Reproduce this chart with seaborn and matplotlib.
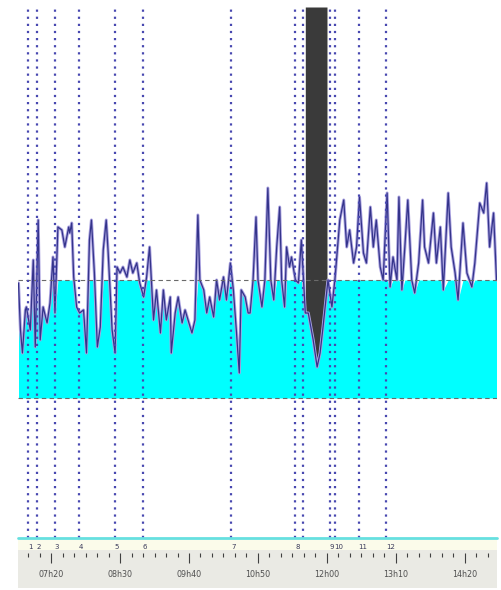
import numpy as np
import pandas as pd
import matplotlib
matplotlib.use("Agg")
import matplotlib.pyplot as plt
from matplotlib.ticker import FixedLocator, FuncFormatter, NullLocator
import seaborn as sns

# ---- data (time in minutes since midnight, amplitude in arbitrary units) ----
times = [407, 409, 411, 414, 415, 419, 422, 424, 427, 429, 432, 436, 439, 442, 444,
         447, 451, 454, 458, 459, 461, 463, 466, 469, 473, 476, 479, 481, 484, 487,
         490, 493, 496, 498, 502, 505, 507, 510, 513, 517, 520, 523, 527, 530, 534,
         537, 540, 544, 547, 551, 554, 557, 561, 562, 566, 569, 573, 576, 579, 583,
         586, 589, 591, 595, 598, 601, 605, 608, 611, 615, 618, 622, 625, 628, 631,
         633, 637, 640, 642, 645, 648, 650, 654, 657, 660, 663, 666, 669, 672, 674,
         677, 679, 682, 684, 688, 691, 694, 698, 701, 706, 710, 713, 716, 721, 725,
         728, 733, 737, 740, 743, 747, 750, 753, 757, 760, 764, 767, 770, 774, 777,
         781, 784, 787, 791, 793, 796, 799, 802, 806, 809, 813, 817, 819, 823, 828,
         831, 835, 838, 843, 846, 850, 853, 858, 862, 867, 870, 875, 879, 882, 885,
         889, 892]
values = [115, 68, 45, 88, 91, 68, 138, 51, 178, 58, 91, 75, 95, 141, 85,
          171, 168, 151, 171, 165, 175, 121, 91, 85, 88, 45, 158, 178, 125, 51,
          71, 148, 178, 145, 68, 45, 131, 125, 131, 121, 138, 125, 135, 115, 101,
          121, 151, 78, 108, 65, 108, 78, 101, 45, 85, 101, 75, 88, 78, 65,
          78, 183, 118, 108, 85, 101, 81, 118, 98, 121, 98, 135, 108, 68, 25,
          108, 101, 85, 85, 118, 181, 118, 91, 118, 210, 118, 98, 151, 191, 118,
          91, 151, 131, 141, 118, 115, 158, 85, 85, 58, 31, 45, 71, 118, 91,
          118, 178, 198, 151, 168, 135, 151, 201, 145, 135, 191, 151, 178, 131, 118,
          205, 111, 141, 118, 201, 108, 151, 198, 118, 105, 135, 198, 151, 135, 185,
          135, 171, 108, 205, 151, 125, 98, 175, 125, 111, 135, 195, 185, 215, 151,
          185, 118]

threshold = 118
baseline = 0
band_start, band_end = 698, 720          # signal-off period (dark band)

event_times = [417, 426, 444, 468, 505, 533, 623, 688, 696, 723, 728, 752, 780]
event_labels = ["1", "2", "3", "4", "5", "6", "7", "8", "", "9", "10", "11", "12"]

major_ticks = [440, 510, 580, 650, 720, 790, 860]
x_min, x_max = 406.5, 892.5
y_min, y_max = -140, 391

df = pd.DataFrame({"t": times, "v": values})

# ---- figure ----
sns.set_style("white")
W, H = 501, 590
fig = plt.figure(figsize=(W / 100, H / 100), dpi=100)
fig.patch.set_facecolor("white")

L, R = 18, 497
ax = fig.add_axes([L / W, (H - 538) / H, (R - L) / W, (538 - 7) / H])
ax2 = fig.add_axes([L / W, (H - 588) / H, (R - L) / W, 50 / H])

# cyan fill up to min(signal, threshold)
tt = np.array(times, dtype=float)
vv = np.array(values, dtype=float)
ax.fill_between(tt, baseline, np.minimum(vv, threshold), color="#00ffff", lw=0, zorder=1)

# dark band
grid = np.linspace(band_start, band_end, 80)
ax.fill_between(grid, np.interp(grid, tt, vv), y_max, color="#3a3a3a", lw=0, zorder=2)

# signal line (soft halo + dark core)
sns.lineplot(data=df, x="t", y="v", ax=ax, color="#aaa2e0", lw=2.2, zorder=3)
sns.lineplot(data=df, x="t", y="v", ax=ax, color="#34348a", lw=0.9, zorder=3.5)

# dashed reference lines
for yv in (threshold, baseline):
    ax.axhline(yv, color="#6a6a6a", lw=0.8, ls=(0, (4, 3)), zorder=4)

# event lines
for et in event_times:
    ax.axvline(et, color="#4848b0", lw=1.6, ls=(0, (1, 2.2)), zorder=5)

ax.set_xlim(x_min, x_max)
ax.set_ylim(y_min, y_max)
ax.xaxis.set_major_locator(NullLocator())
ax.xaxis.set_minor_locator(NullLocator())
ax.set_yticks([])
ax.set_xlabel("")
ax.set_ylabel("")
for s in ax.spines.values():
    s.set_visible(False)

# ---- bottom time scale ----
ax2.set_xlim(x_min, x_max)
ax2.set_facecolor("#eaeae4")
ax2.set_ylim(0, 1)
ax2.axhspan(0.76, 1.0, color="#fbfbea", lw=0)
ax2.axhline(1.0, color="#66e0e0", lw=2.0, clip_on=False)
for s in ax2.spines.values():
    s.set_visible(False)
ax2.spines["bottom"].set_position(("axes", 0.7))
ax2.set_yticks([])
ax2.xaxis.set_major_locator(FixedLocator(major_ticks))
ax2.xaxis.set_minor_locator(FixedLocator(np.arange(440 - 3 * 70 / 6, x_max, 70 / 6)))
ax2.xaxis.set_major_formatter(FuncFormatter(lambda t, p: f"{int(t // 60):02d}h{int(round(t % 60)):02d}"))
ax2.tick_params(axis="x", which="both", bottom=True, top=False, labelbottom=True)
ax2.tick_params(axis="x", which="major", direction="out", length=7.2, width=0.8,
                color="#404040", labelsize=5.8, labelcolor="#505050", pad=5)
ax2.tick_params(axis="x", which="minor", direction="out", length=3.0, width=0.8,
                color="#404040")
ax2.set_xlabel("")

for et, lab in zip(event_times, event_labels):
    if lab:
        ax2.text(et - 0.3, 0.82, lab, transform=ax2.get_xaxis_transform(),
                 ha="left", va="center", fontsize=5, color="#3a3a5a")

fig.savefig("out.png", dpi=100)
